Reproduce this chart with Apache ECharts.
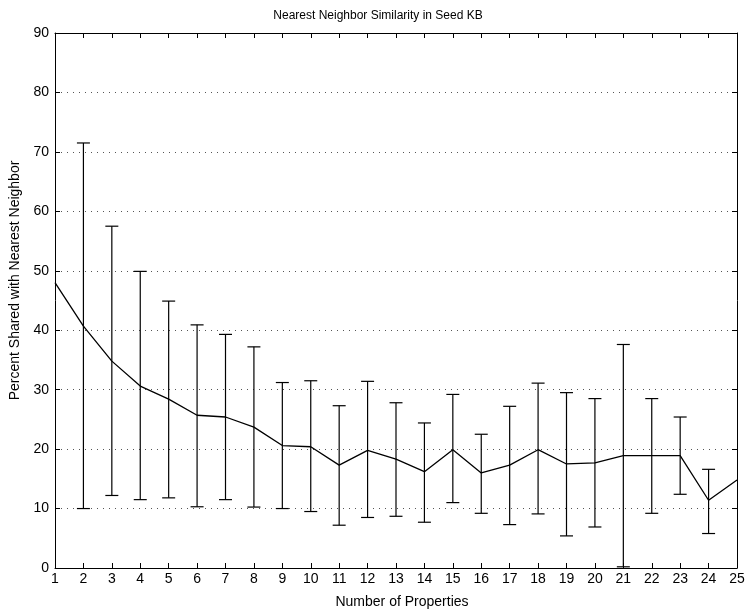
<!DOCTYPE html>
<html>
<head>
<meta charset="utf-8">
<script src="https://cdn.jsdelivr.net/npm/echarts@6/dist/echarts.min.js"></script>
<style>html,body{margin:0;padding:0;background:#fff}#c{width:746px;height:611px}</style>
</head>
<body>
<div id="c"></div>
<script>
var numProps = [1,2,3,4,5,6,7,8,9,10,11,12,13,14,15,16,17,18,19,20,21,22,23,24,25];
var meanShared = [48.0,40.7,34.8,30.6,28.4,25.7,25.4,23.7,20.6,20.4,17.3,19.8,18.3,16.2,19.9,16.0,17.3,19.9,17.5,17.7,18.9,18.9,18.9,11.4,14.8];
var upperShared = [null,71.5,57.5,49.9,44.9,40.9,39.3,37.2,31.2,31.5,27.3,31.4,27.8,24.4,29.2,22.5,27.2,31.1,29.5,28.5,37.6,28.5,25.4,16.6,null];
var lowerShared = [null,10.0,12.2,11.5,11.8,10.3,11.5,10.25,10.0,9.5,7.2,8.5,8.7,7.7,11.0,9.2,7.3,9.1,5.4,6.9,0.2,9.2,12.4,5.8,null];
var xTicks = {min:1, max:25, interval:1};
var yTicks = {min:0, max:90, interval:10};

var lineData = numProps.map(function(x,i){return [x, meanShared[i]];});
var errData = [];
numProps.forEach(function(x,i){
  if (upperShared[i] != null && lowerShared[i] != null) errData.push([x, lowerShared[i], upperShared[i]]);
});

var font = 'Liberation Sans, Arial, sans-serif';
var chart = echarts.init(document.getElementById('c'), null, {renderer:'canvas'});
chart.setOption({
  animation:false,
  backgroundColor:'#fff',
  title:{text:'Nearest Neighbor Similarity in Seed KB', left:373, textAlign:'center', top:5,
    textStyle:{fontFamily:font, fontSize:12, fontWeight:'normal', color:'#000'}},
  grid:{left:55, right:9, top:33, bottom:43, containLabel:false, outerBoundsMode:'none'},
  xAxis:[{
    type:'value', min:xTicks.min, max:xTicks.max, interval:xTicks.interval,
    name:'Number of Properties', nameLocation:'middle', nameGap:27,
    nameTextStyle:{fontFamily:font, fontSize:14, color:'#000', padding:[0,0,0,12]},
    axisLine:{show:true, onZero:false, lineStyle:{color:'#000', width:1}},
    axisTick:{show:true, inside:true, length:5, lineStyle:{color:'#000'}},
    axisLabel:{fontFamily:font, fontSize:14, color:'#000', margin:4},
    splitLine:{show:false}
  },{
    type:'value', position:'top', min:xTicks.min, max:xTicks.max, interval:xTicks.interval,
    axisLine:{show:true, onZero:false, lineStyle:{color:'#000', width:1}},
    axisTick:{show:true, inside:true, length:5, lineStyle:{color:'#000'}},
    axisLabel:{show:false}, splitLine:{show:false}
  }],
  yAxis:[{
    type:'value', min:yTicks.min, max:yTicks.max, interval:yTicks.interval,
    name:'Percent Shared with Nearest Neighbor', nameLocation:'middle', nameGap:27,
    nameTextStyle:{fontFamily:font, fontSize:14, color:'#000', padding:[0,0,0,40]},
    axisLine:{show:true, onZero:false, lineStyle:{color:'#000', width:1}},
    axisTick:{show:true, inside:true, length:5, lineStyle:{color:'#000'}},
    axisLabel:{fontFamily:font, fontSize:14, color:'#000', margin:6},
    splitLine:{show:true, lineStyle:{color:'#555', width:1, type:[1,5]}}
  },{
    type:'value', position:'right', min:yTicks.min, max:yTicks.max, interval:yTicks.interval,
    axisLine:{show:true, onZero:false, lineStyle:{color:'#000', width:1}},
    axisTick:{show:true, inside:true, length:5, lineStyle:{color:'#000'}},
    axisLabel:{show:false}, splitLine:{show:false}
  }],
  series:[{
    type:'line', data:lineData, symbol:'none', xAxisIndex:0, yAxisIndex:0,
    lineStyle:{color:'#000', width:1.3}, z:3
  },{
    type:'custom', xAxisIndex:0, yAxisIndex:0, data:errData,
    renderItem:function(params, api){
      var x = api.value(0);
      var lo = api.coord([x, api.value(1)]);
      var hi = api.coord([x, api.value(2)]);
      var hw = 6.5;
      var st = {stroke:'#000', lineWidth:1.2, fill:null};
      return {type:'group', children:[
        {type:'line', shape:{x1:lo[0], y1:lo[1], x2:hi[0], y2:hi[1]}, style:st},
        {type:'line', shape:{x1:hi[0]-hw, y1:hi[1], x2:hi[0]+hw, y2:hi[1]}, style:st},
        {type:'line', shape:{x1:lo[0]-hw, y1:lo[1], x2:lo[0]+hw, y2:lo[1]}, style:st}
      ]};
    }, z:4
  }]
});
</script>
</body>
</html>
